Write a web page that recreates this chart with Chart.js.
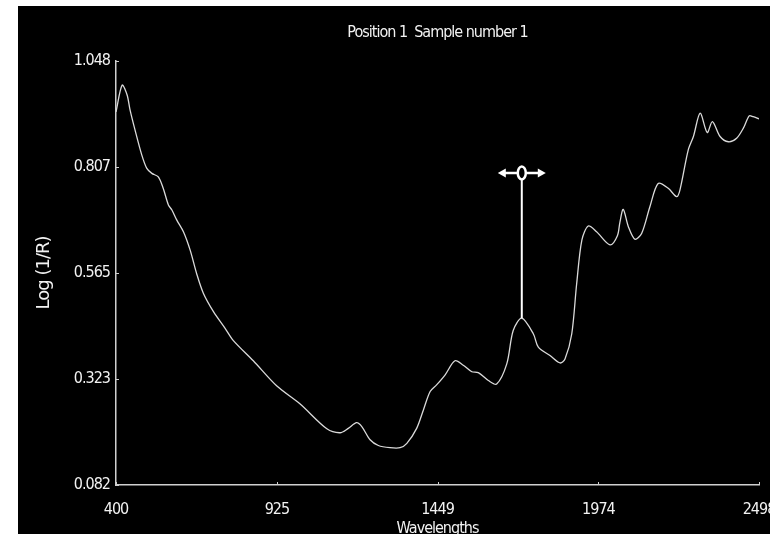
<!DOCTYPE html>
<html>
<head>
<meta charset="utf-8">
<script src="https://cdn.jsdelivr.net/npm/chart.js@4"></script>
<style>
  html, body { margin: 0; padding: 0; background: #fff; }
  #box { position: absolute; left: 18px; top: 6px; width: 752px; height: 528px; background: #000; }
</style>
</head>
<body>
<div id="box"><canvas id="myChart" width="752" height="528"></canvas></div>
<script>
// spectrum
const wavelengths = [
    400, 420, 436, 446, 462, 484, 500, 517, 538, 554, 571, 582, 598, 620, 642, 663, 685, 718, 756, 783,
    848, 924, 1000, 1088, 1131, 1158, 1185, 1202, 1229, 1256, 1294, 1327, 1349, 1381, 1403, 1425, 1446, 1474, 1506, 1533,
    1561, 1582, 1615, 1642, 1675, 1696, 1724, 1762, 1778, 1816, 1849, 1865, 1887, 1903, 1920, 1941, 1968, 2012, 2036, 2044,
    2055, 2072, 2093, 2115, 2142, 2169, 2202, 2229, 2240, 2267, 2284, 2306, 2329, 2346, 2371, 2398, 2425, 2447, 2466, 2479, 2498
];
const logInvR = [
    0.932, 0.993, 0.971, 0.936, 0.891, 0.834, 0.804, 0.792, 0.784, 0.758, 0.720, 0.709, 0.686, 0.659, 0.617, 0.564, 0.519, 0.477, 0.439, 0.411,
    0.365, 0.308, 0.267, 0.210, 0.201, 0.211, 0.224, 0.215, 0.185, 0.172, 0.167, 0.167, 0.177, 0.211, 0.253, 0.295, 0.310, 0.333, 0.365, 0.355,
    0.340, 0.338, 0.320, 0.312, 0.358, 0.434, 0.462, 0.426, 0.396, 0.377, 0.360, 0.369, 0.426, 0.540, 0.640, 0.672, 0.659, 0.629, 0.650, 0.680,
    0.710, 0.670, 0.642, 0.655, 0.716, 0.769, 0.758, 0.739, 0.754, 0.845, 0.876, 0.929, 0.885, 0.910, 0.876, 0.864, 0.872, 0.895, 0.923, 0.921, 0.916
];
const xTickValues = [400, 925, 1449, 1974, 2498];
const yTickValues = [0.082, 0.323, 0.565, 0.807, 1.048];
const cursorWavelength = 1724;
const cursorTop = 0.793;

const narrow = '"Liberation Sans Narrow", "DejaVu Sans Condensed", "Arial Narrow", sans-serif';
const textColor = '#f2f2f2';
const axisColor = '#cfcfcf';

// inward tick marks and the cursor marker
const spectrumMarks = {
    id: 'spectrumMarks',
    beforeDraw(chart) {
        // the original uses a narrow font, tighten the condensed one a bit
        chart.ctx.letterSpacing = '-1px';
    },
    afterDatasetsDraw(chart) {
        const { ctx, chartArea, scales: { x, y } } = chart;
        ctx.save();
        ctx.strokeStyle = axisColor;
        ctx.lineWidth = 1;
        xTickValues.forEach(v => {
            const px = Math.round(x.getPixelForValue(v)) + 0.5;
            ctx.beginPath();
            ctx.moveTo(px, chartArea.bottom);
            ctx.lineTo(px, chartArea.bottom - 3);
            ctx.stroke();
        });
        yTickValues.forEach(v => {
            const py = Math.round(y.getPixelForValue(v)) + 0.5;
            ctx.beginPath();
            ctx.moveTo(chartArea.left, py);
            ctx.lineTo(chartArea.left + 3, py);
            ctx.stroke();
        });

        const idx = wavelengths.indexOf(cursorWavelength);
        const cx = x.getPixelForValue(cursorWavelength);
        const yBottom = y.getPixelForValue(logInvR[idx]);
        const yTop = y.getPixelForValue(cursorTop);
        ctx.strokeStyle = '#fff';
        ctx.fillStyle = '#fff';
        ctx.lineWidth = 2;
        ctx.beginPath();
        ctx.moveTo(cx, yBottom);
        ctx.lineTo(cx, yTop + 6);
        ctx.stroke();
        ctx.lineWidth = 2.5;
        ctx.beginPath();
        ctx.moveTo(cx - 19, yTop);
        ctx.lineTo(cx - 4, yTop);
        ctx.moveTo(cx + 4, yTop);
        ctx.lineTo(cx + 19, yTop);
        ctx.stroke();
        [-1, 1].forEach(d => {
            ctx.beginPath();
            ctx.moveTo(cx + d * 24, yTop);
            ctx.lineTo(cx + d * 16, yTop - 4.5);
            ctx.lineTo(cx + d * 16, yTop + 4.5);
            ctx.closePath();
            ctx.fill();
        });
        ctx.fillStyle = '#000';
        ctx.beginPath();
        ctx.ellipse(cx, yTop, 4, 6.5, 0, 0, Math.PI * 2);
        ctx.fill();
        ctx.stroke();
        ctx.restore();
    }
};

const config = {
    type: 'line',
    data: {
        datasets: [{
            data: wavelengths.map((w, i) => ({ x: w, y: logInvR[i] })),
            borderColor: '#dadada',
            borderWidth: 1.3,
            pointRadius: 0,
            tension: 0.3,
            fill: false
        }]
    },
    options: {
        responsive: false,
        animation: false,
        layout: { padding: { left: 0, right: 11, top: 0, bottom: 0 } },
        plugins: {
            legend: { display: false },
            tooltip: { enabled: false },
            title: {
                display: true,
                text: 'Position 1  Sample number 1',
                fullSize: false,
                color: textColor,
                font: { family: narrow, size: 16, weight: 'normal', lineHeight: 1.2 },
                padding: { top: 17, bottom: 18.8 }
            }
        },
        scales: {
            x: {
                type: 'linear',
                min: 400,
                max: 2498,
                afterBuildTicks: s => { s.ticks = xTickValues.map(v => ({ value: v })); },
                afterFit: s => { s.height = 49; s.paddingLeft = 0; s.paddingRight = 0; },
                ticks: {
                    color: textColor,
                    font: { family: narrow, size: 16 },
                    padding: 15,
                    maxRotation: 0,
                    autoSkip: false,
                    callback: v => String(v)
                },
                grid: { drawOnChartArea: false, drawTicks: false },
                border: { display: true, color: axisColor, width: 1.5 },
                title: {
                    display: true,
                    text: 'Wavelengths',
                    color: textColor,
                    font: { family: narrow, size: 16, lineHeight: 0.7 },
                    padding: 0
                }
            },
            y: {
                type: 'linear',
                min: 0.082,
                max: 1.048,
                afterBuildTicks: s => { s.ticks = yTickValues.map(v => ({ value: v })); },
                afterFit: s => { s.width = 98; s.paddingTop = 0; s.paddingBottom = 0; },
                ticks: {
                    color: textColor,
                    font: { family: narrow, size: 16 },
                    padding: 6,
                    callback: v => v.toFixed(3)
                },
                grid: { drawOnChartArea: false, drawTicks: false },
                border: { display: true, color: axisColor, width: 1.5 },
                title: {
                    display: true,
                    text: 'Log (1/R)',
                    color: textColor,
                    font: { family: '"DejaVu Sans", sans-serif', size: 18 },
                    padding: { top: 16, bottom: 0 }
                }
            }
        }
    },
    plugins: [spectrumMarks]
};

const myChart = new Chart(document.getElementById('myChart'), config);
</script>
</body>
</html>
